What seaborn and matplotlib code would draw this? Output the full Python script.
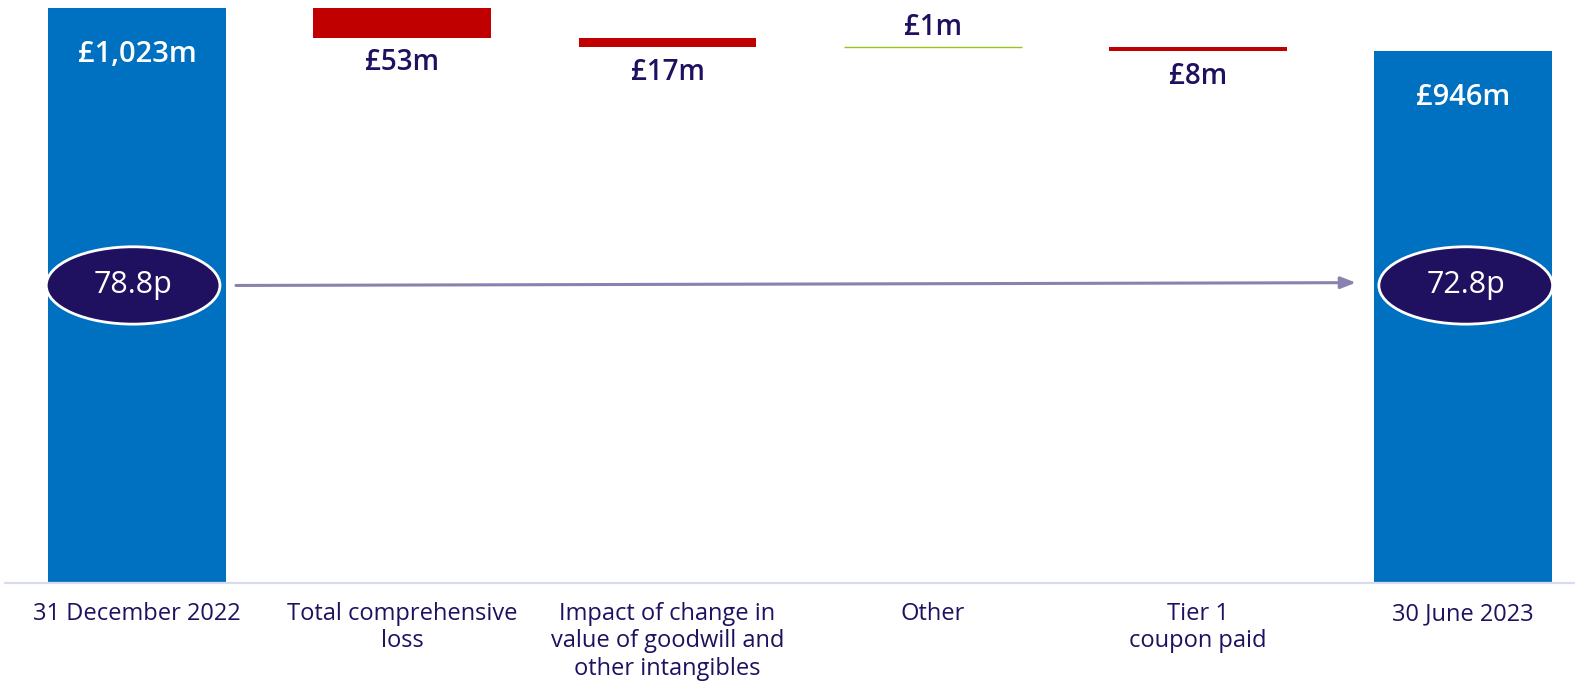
import numpy as np
import pandas as pd
import seaborn as sns
import matplotlib.pyplot as plt
from matplotlib.patches import Ellipse

# waterfall data (£m)
categories = ['31 December 2022', 'Total comprehensive\nloss',
              'Impact of change in\nvalue of goodwill and\nother intangibles',
              'Other', 'Tier 1\ncoupon paid', '30 June 2023']
changes = [1023, -53, -17, 1, -8, 946]
kinds = ['total', 'change', 'change', 'change', 'change', 'total']
value_labels = ['£1,023m', '£53m', '£17m', '£1m', '£8m', '£946m']
nav_per_share = ['78.8p', '72.8p']

BLUE = '#0070C0'
RED = '#C00000'
GREEN = '#9BC31E'
NAVY = '#201060'
ARROW = '#8A82AE'

# work out bottoms and heights of each bar
bottoms, heights = [], []
running = 0
for c, k in zip(changes, kinds):
    if k == 'total':
        bottoms.append(0)
        heights.append(c)
        running = c
    else:
        start = running
        running = running + c
        bottoms.append(min(start, running))
        heights.append(abs(c))

df = pd.DataFrame({'category': categories, 'height': heights, 'bottom': bottoms})

sns.set_style('white')
plt.rcParams['font.family'] = ['Open Sans', 'DejaVu Sans']

fig = plt.figure(figsize=(15.75, 6.81), dpi=100)
ax = fig.add_axes([5 / 1575, 98.4 / 681, 1570 / 1575, 582.6 / 681])

sns.barplot(data=df, x='category', y='height', bottom=df['bottom'].values,
            color=BLUE, saturation=1, width=0.67, linewidth=0, ax=ax)

for patch, c, k in zip(ax.patches, changes, kinds):
    if k == 'total':
        patch.set_facecolor(BLUE)
    elif c < 0:
        patch.set_facecolor(RED)
    else:
        patch.set_facecolor(GREEN)
        patch.set_edgecolor(GREEN)
        patch.set_linewidth(1.0)

# value labels
for i, (c, k, lab) in enumerate(zip(changes, kinds, value_labels)):
    top = bottoms[i] + heights[i]
    if k == 'total':
        ax.annotate(lab, (i, top), xytext=(0, -33.5), textcoords='offset points',
                    ha='center', va='center', color='white', fontsize=21, fontweight='semibold')
    elif c < 0:
        ax.annotate(lab, (i, bottoms[i]), xytext=(0, -18), textcoords='offset points',
                    ha='center', va='center', color=NAVY, fontsize=20, fontweight='semibold')
    else:
        ax.annotate(lab, (i, top), xytext=(0, 13.5), textcoords='offset points',
                    ha='center', va='center', color=NAVY, fontsize=20, fontweight='semibold')

# NAV per share ellipses and arrow
ell_y = 529
for xi, lab in zip([0, 5], nav_per_share):
    xc = xi - 0.015 if xi == 0 else xi + 0.01
    ax.add_patch(Ellipse((xc, ell_y), 0.655, 137.7, facecolor=NAVY, edgecolor='white',
                         linewidth=2, zorder=5))
    ax.text(xc, ell_y, lab, ha='center', va='center', color='white', fontsize=22, zorder=6)

ax.annotate('', xy=(4.596, 534), xytext=(0.373, 529),
            arrowprops=dict(arrowstyle='-|>,head_length=0.9,head_width=0.35',
                            color=ARROW, lw=2.2, shrinkA=0, shrinkB=0), zorder=4)

ax.set_xlim(-0.498, 5.422)
ax.set_ylim(0, 1037.2)
ax.set_xlabel('')
ax.set_ylabel('')
ax.set_yticks([])
for s in ['left', 'top', 'right']:
    ax.spines[s].set_visible(False)
ax.spines['bottom'].set_color('#D9DCF0')
ax.spines['bottom'].set_linewidth(1.6)
ax.tick_params(axis='x', length=0, pad=14, labelsize=17, labelcolor=NAVY)
for t in ax.get_xticklabels():
    t.set_linespacing(1.18)
    t.set_va('top')

fig.savefig('out.png', dpi=100, facecolor='white')
